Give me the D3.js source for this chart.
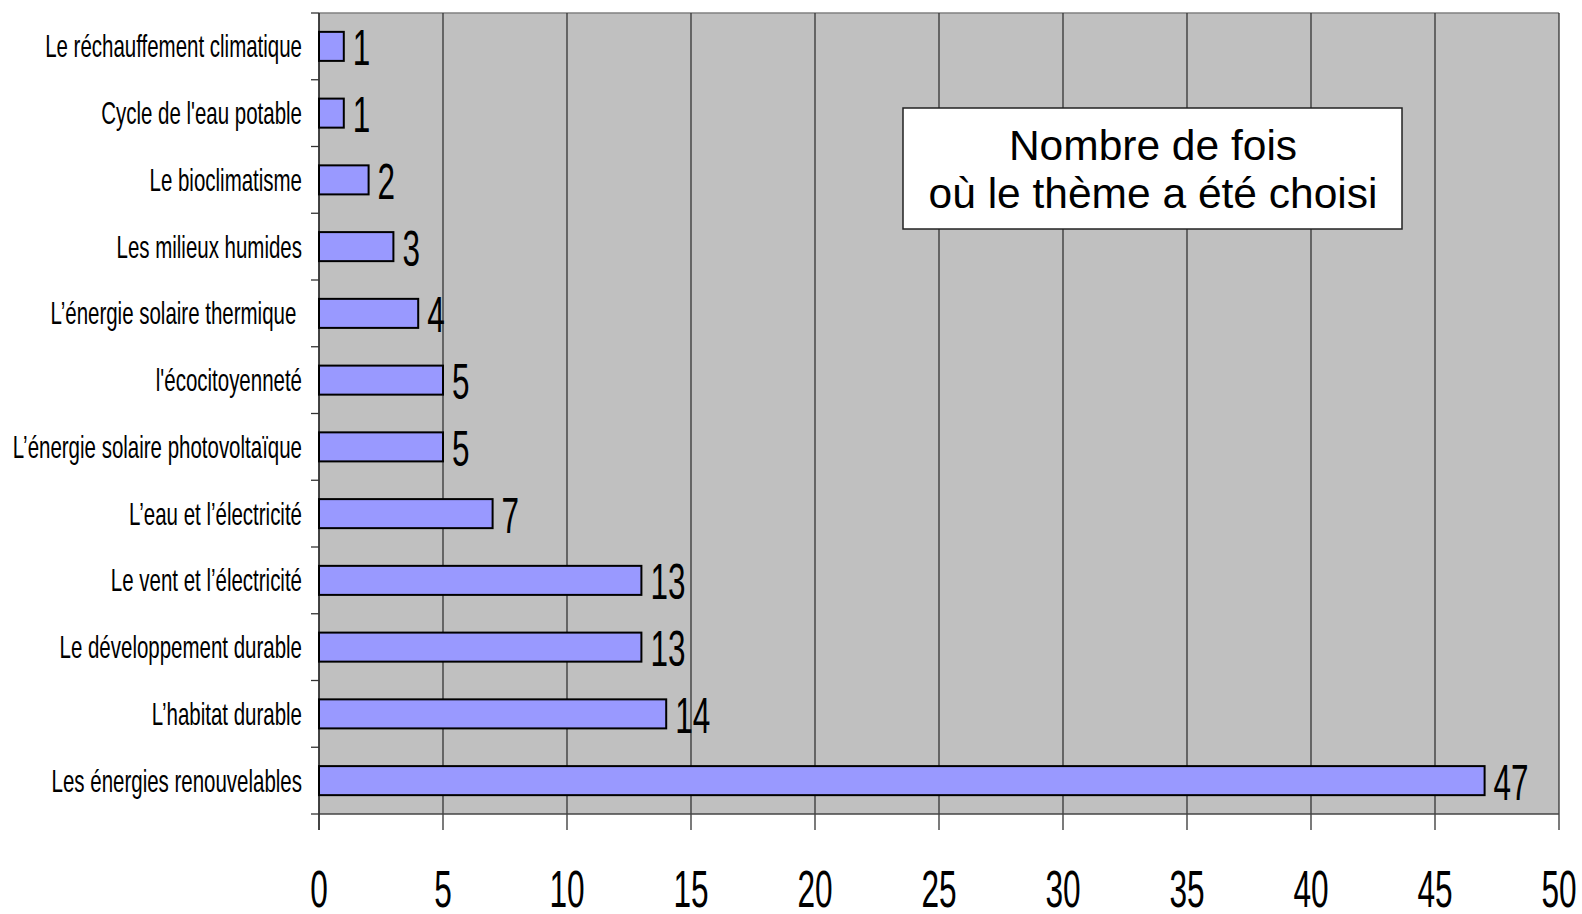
<!DOCTYPE html>
<html>
<head>
<meta charset="utf-8">
<script src="https://cdn.jsdelivr.net/npm/d3@7"></script>
<style>
body { margin: 0; background: #fff; }
svg text { font-family: "Liberation Sans", Arial, sans-serif; white-space: pre; }
</style>
</head>
<body>
<script>
// themes, top to bottom as they appear
var themes = [
  "Le réchauffement climatique",
  "Cycle de l'eau potable",
  "Le bioclimatisme",
  "Les milieux humides",
  "L’énergie solaire thermique ",
  "l'écocitoyenneté",
  "L’énergie solaire photovoltaïque",
  "L’eau et l’électricité",
  "Le vent et l’électricité",
  "Le développement durable",
  "L’habitat durable",
  "Les énergies renouvelables"
];
var counts = [1, 1, 2, 3, 4, 5, 5, 7, 13, 13, 14, 47];
var xTicks = [0, 5, 10, 15, 20, 25, 30, 35, 40, 45, 50];
var titleLines = ["Nombre de fois", "où le thème a été choisi"];

var width = 1582, height = 914;
// note: "top" is reserved on window, so plot edges get a prefix
var plotL = 319, plotR = 1559, plotT = 13, plotB = 814;
var squeeze = 0.63; // the labels are drawn in a very narrow face

var data = themes.map(function(t, i){ return {name: t, value: counts[i]}; });

var svg = d3.select("body").append("svg")
  .attr("width", width)
  .attr("height", height);

var x = d3.scaleLinear().domain([0, 50]).range([plotL, plotR]);
var y = d3.scaleBand().domain(themes).range([plotT, plotB])
  .paddingInner(0.565).paddingOuter(0.2825);

// plot background
svg.append("rect")
  .attr("x", plotL).attr("y", plotT)
  .attr("width", plotR - plotL).attr("height", plotB - plotT)
  .attr("fill", "#c0c0c0");

svg.append("line")
  .attr("x1", plotL).attr("x2", plotR).attr("y1", plotT).attr("y2", plotT)
  .attr("stroke", "#808080").attr("stroke-width", 1.5);

// vertical grid + ticks below the axis
svg.selectAll(".grid").data(xTicks).enter().append("line")
  .attr("class", "grid")
  .attr("x1", function(d){ return x(d); })
  .attr("x2", function(d){ return x(d); })
  .attr("y1", plotT)
  .attr("y2", plotB + 16)
  .attr("stroke", "#333")
  .attr("stroke-width", 1.3);

// axis lines
svg.append("line")
  .attr("x1", plotL).attr("x2", plotR).attr("y1", plotB).attr("y2", plotB)
  .attr("stroke", "#444").attr("stroke-width", 1.3);
svg.append("line")
  .attr("x1", plotL).attr("x2", plotL).attr("y1", plotT).attr("y2", plotB + 16)
  .attr("stroke", "#333").attr("stroke-width", 1.5);

// category ticks at the band edges
var edges = d3.range(themes.length + 1).map(function(i){ return plotT + i * y.step(); });
svg.selectAll(".ytick").data(edges).enter().append("line")
  .attr("x1", plotL - 8).attr("x2", plotL)
  .attr("y1", function(d){ return d; }).attr("y2", function(d){ return d; })
  .attr("stroke", "#333").attr("stroke-width", 1.3);

// bars
svg.selectAll(".bar").data(data).enter().append("rect")
  .attr("class", "bar")
  .attr("x", x(0))
  .attr("y", function(d){ return y(d.name); })
  .attr("width", function(d){ return x(d.value) - x(0); })
  .attr("height", y.bandwidth())
  .attr("fill", "#9999ff")
  .attr("stroke", "#000")
  .attr("stroke-width", 2);

// value labels
svg.selectAll(".val").data(data).enter().append("text")
  .attr("transform", function(d){
    return "translate(" + (x(d.value) + 9) + "," + (y(d.name) + y.bandwidth()/2 + 19) + ") scale(" + squeeze + ",1)";
  })
  .attr("font-size", 50)
  .attr("fill", "#000")
  .text(function(d){ return d.value; });

// category labels
svg.selectAll(".cat").data(data).enter().append("text")
  .attr("transform", function(d){
    return "translate(" + 302 + "," + (y(d.name) + y.bandwidth()/2 + 11) + ") scale(" + (squeeze + 0.01) + ",1)";
  })
  .attr("text-anchor", "end")
  .attr("font-size", 32)
  .attr("fill", "#000")
  .text(function(d){ return d.name; });

// x tick labels
svg.selectAll(".xlab").data(xTicks).enter().append("text")
  .attr("transform", function(d){ return "translate(" + x(d) + ",907) scale(" + (squeeze - 0.01) + ",1)"; })
  .attr("text-anchor", "middle")
  .attr("font-size", 51)
  .attr("fill", "#000")
  .text(function(d){ return d; });

// title box
var box = svg.append("g");
box.append("rect")
  .attr("x", 903).attr("y", 108)
  .attr("width", 499).attr("height", 121)
  .attr("fill", "#fff")
  .attr("stroke", "#222")
  .attr("stroke-width", 1.5);
box.selectAll("text").data(titleLines).enter().append("text")
  .attr("x", 1153)
  .attr("y", function(d, i){ return 160 + i * 48; })
  .attr("text-anchor", "middle")
  .attr("font-size", 42.5)
  .attr("fill", "#000")
  .text(function(d){ return d; });
</script>
</body>
</html>
